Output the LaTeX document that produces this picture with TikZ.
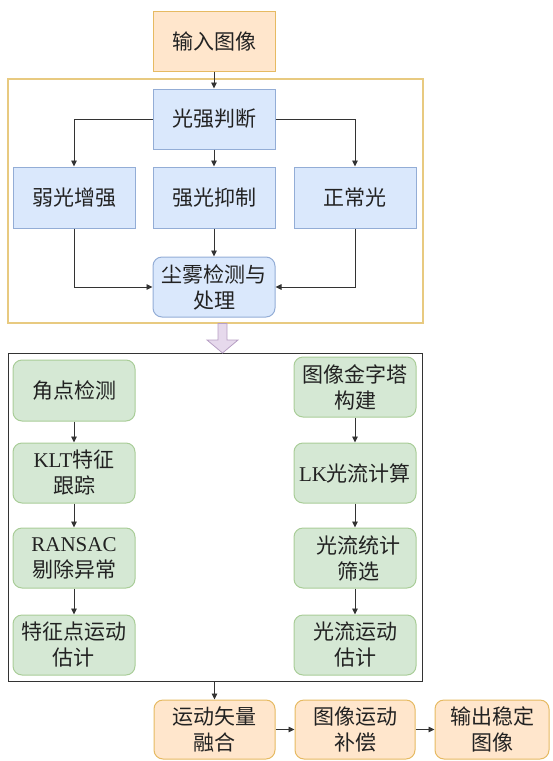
\documentclass[tikz,border=0pt]{standalone}
\usepackage{fontspec}
\setmainfont{Liberation Serif}
\newfontfamily\cjk{Noto Sans CJK SC}
\usetikzlibrary{arrows.meta}
\definecolor{orfill}{HTML}{FFE6CC}
\definecolor{ordraw}{HTML}{E6BA62}
\definecolor{blfill}{HTML}{DAE8FC}
\definecolor{bldraw}{HTML}{93ADD6}
\definecolor{grfill}{HTML}{D5E8D4}
\definecolor{grdraw}{HTML}{A9CD98}
\definecolor{pufill}{HTML}{E6D9EC}
\definecolor{pudraw}{HTML}{B79FC4}
\definecolor{yframe}{HTML}{E8CA80}
\definecolor{lnc}{HTML}{333333}
\definecolor{txt}{HTML}{222222}
\newcommand{\lat}[1]{{\rmfamily #1}}
\tikzset{
  box/.style={minimum width=122pt, minimum height=60pt, inner sep=0pt, align=center,
    text=txt, font=\cjk\fontsize{21}{26}\selectfont, line width=1pt},
  obox/.style={box, fill=orfill, draw=ordraw},
  orbox/.style={obox, rounded corners=9pt},
  bbox/.style={box, fill=blfill, draw=bldraw},
  brbox/.style={bbox, rounded corners=9pt},
  gbox/.style={box, fill=grfill, draw=grdraw, rounded corners=9pt},
  arr/.style={draw=lnc, line width=0.9pt, -{Triangle[length=6pt,width=5.5pt]}}
}
\begin{document}
\begin{tikzpicture}[x=1pt,y=-1pt]
\useasboundingbox (0,0) rectangle (552,761);
% frames
\node[draw=yframe, line width=1.2pt, minimum width=415pt, minimum height=244pt, inner sep=0pt] (yf) at (215.5,201) {};
\node[draw=lnc, line width=1pt, minimum width=414pt, minimum height=328pt, inner sep=0pt] (bf) at (215,517) {};
% top part
\node[obox] (in) at (214,41) {输入图像};
\node[bbox] (judge) at (214,119) {光强判断};
\node[bbox, minimum height=61pt] (weak) at (74,197.5) {弱光增强};
\node[bbox, minimum height=61pt] (strong) at (214,197.5) {强光抑制};
\node[bbox, minimum height=61pt] (normal) at (355,197.5) {正常光};
\node[brbox] (dust) at (214,287) {尘雾检测与\\处理};
\draw[arr] (in) -- (judge);
\draw[arr] (judge.west) -| (weak.north);
\draw[arr] (judge.east) -| (normal.north);
\draw[arr] (judge) -- (strong);
\draw[arr] (strong) -- (dust);
\draw[arr] (weak.south) |- (dust.west);
\draw[arr] (normal.south) |- (dust.east);
% purple arrow
\draw[fill=pufill, draw=pudraw, line width=0.8pt] (218,323.5) -- (227,323.5) -- (227,340) -- (238,340) -- (222.5,353) -- (207,340) -- (218,340) -- cycle;
% left column
\node[gbox, minimum height=61pt] (corner) at (74,390.5) {角点检测};
\node[gbox] (klt) at (74,473) {\lat{KLT}特征\\跟踪};
\node[gbox] (ransac) at (74,558) {\lat{RANSAC}\\剔除异常};
\node[gbox] (feat) at (74,645) {特征点运动\\估计};
\draw[arr] (corner) -- (klt);
\draw[arr] (klt) -- (ransac);
\draw[arr] (ransac) -- (feat);
% right column
\node[gbox] (pyr) at (355,387) {图像金字塔\\构建};
\node[gbox] (lk) at (355,473) {\lat{LK}光流计算};
\node[gbox] (stat) at (355,558) {\hspace*{6pt}光流统计\\\hspace*{6pt}筛选};
\node[gbox] (flow) at (355,645) {光流运动\\估计};
\draw[arr] (pyr) -- (lk);
\draw[arr] (lk) -- (stat);
\draw[arr] (stat) -- (flow);
% bottom row
\node[orbox, minimum width=121pt, minimum height=59pt] (fuse) at (214.5,729.5) {运动矢量\\融合};
\node[orbox, minimum width=120pt, minimum height=59pt] (comp) at (355,729.5) {图像运动\\补偿};
\node[orbox, minimum width=114pt, minimum height=59pt] (out) at (492,729.5) {输出稳定\\图像};
\draw[arr] (fuse.north |- bf.south) -- (fuse.north);
\draw[arr] (fuse) -- (comp);
\draw[arr] (comp) -- (out);
\end{tikzpicture}
\end{document}
